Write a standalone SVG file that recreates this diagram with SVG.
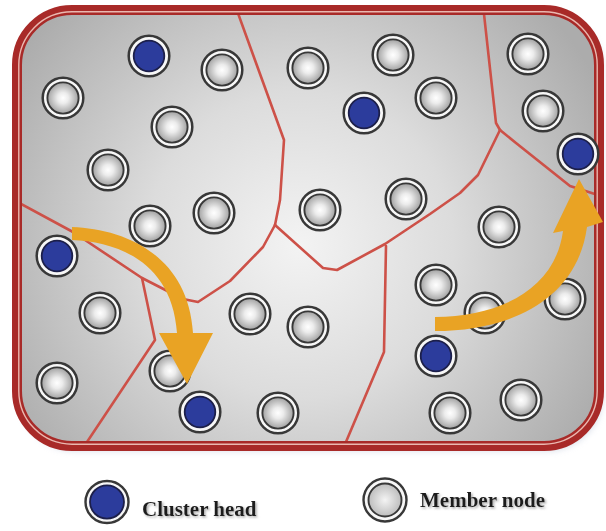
<svg xmlns="http://www.w3.org/2000/svg" xmlns:xlink="http://www.w3.org/1999/xlink" width="606" height="531" viewBox="0 0 606 531">
<defs>
<radialGradient id="bg" gradientUnits="userSpaceOnUse" cx="300" cy="245" r="340">
<stop offset="0" stop-color="#f3f3f3"/>
<stop offset="0.45" stop-color="#dcdcdc"/>
<stop offset="1" stop-color="#acacac"/>
</radialGradient>
<radialGradient id="mg" cx="0.5" cy="0.5" r="0.5">
<stop offset="0" stop-color="#ffffff"/>
<stop offset="0.35" stop-color="#ececec"/>
<stop offset="1" stop-color="#a2a2a2"/>
</radialGradient>
<radialGradient id="lg" cx="0.5" cy="0.5" r="0.5">
<stop offset="0" stop-color="#f4f4f4"/>
<stop offset="1" stop-color="#bdbdbd"/>
</radialGradient>
<clipPath id="inside">
<rect x="17" y="10" width="582" height="436" rx="55"/>
</clipPath>
<filter id="shadow" x="-10%" y="-10%" width="120%" height="120%">
<feGaussianBlur stdDeviation="3"/>
</filter>
<filter id="tshadow" x="-5%" y="-20%" width="110%" height="140%">
<feDropShadow dx="1.5" dy="1.5" stdDeviation="0.8" flood-color="#888888" flood-opacity="0.7"/>
</filter>
<g id="member">
<circle r="20.3" fill="#f7f7f7" stroke="#383838" stroke-width="2.5"/>
<circle r="15.6" fill="url(#mg)" stroke="#383838" stroke-width="1.9"/>
</g>
<g id="head">
<circle r="20.3" fill="#f7f7f7" stroke="#383838" stroke-width="2.5"/>
<circle r="15.3" fill="#2c3c9c" stroke="#1c1f4a" stroke-width="1.8"/>
</g>
</defs>
<style>
.part{fill:none;stroke:#cd5148;stroke-width:2.6;stroke-linejoin:round;stroke-linecap:round}
.arrow{fill:#e9a324}
.legend{font-family:"Liberation Serif","Times New Roman",serif;font-weight:bold;font-size:21px;fill:#1e1e1e}
</style>
<rect width="606" height="531" fill="#ffffff"/>
<rect x="19" y="13" width="584" height="438" rx="56" fill="#b9c3d6" opacity="0.55" filter="url(#shadow)"/>
<rect id="board" x="17" y="10" width="582" height="436" rx="55" fill="url(#bg)"/>
<g id="connectors" clip-path="url(#inside)">
<polyline class="part" points="235,5 284,140 280,200 275,225"/>
<polyline class="part" points="12,199 73,232 142,278 183,299 198,302 230,281 263,247 275,225"/>
<polyline class="part" points="142,278 155,340 83,448"/>
<polyline class="part" points="275,225 323,268 337,270 385,244 430,214 460,193 478,175 500,130"/>
<polyline class="part" points="483,5 496,123 500,130"/>
<polyline class="part" points="500,130 516,143 570,186 604,197"/>
<polyline class="part" points="386,246 384,352 343,449"/>
</g>
<g id="frame">
<rect x="17" y="10" width="582" height="436" rx="55" fill="none" stroke="#a82a28" stroke-width="10"/>
<rect x="18.8" y="11.8" width="578.4" height="432.4" rx="53.2" fill="none" stroke="#eab8b0" stroke-width="1.4"/>
</g>
<g id="ch1" transform="translate(149,56)"><use xlink:href="#head"/></g>
<g id="ch2" transform="translate(364,113)"><use xlink:href="#head"/></g>
<g id="ch3" transform="translate(578,154)"><use xlink:href="#head"/></g>
<g id="ch4" transform="translate(57,256)"><use xlink:href="#head"/></g>
<g id="ch5" transform="translate(200,412)"><use xlink:href="#head"/></g>
<g id="ch6" transform="translate(436,356)"><use xlink:href="#head"/></g>
<g id="m1" transform="translate(222,70)"><use xlink:href="#member"/></g>
<g id="m2" transform="translate(63,98)"><use xlink:href="#member"/></g>
<g id="m3" transform="translate(172,127)"><use xlink:href="#member"/></g>
<g id="m4" transform="translate(108,170)"><use xlink:href="#member"/></g>
<g id="m5" transform="translate(150,226)"><use xlink:href="#member"/></g>
<g id="m6" transform="translate(214,213)"><use xlink:href="#member"/></g>
<g id="m7" transform="translate(308,68)"><use xlink:href="#member"/></g>
<g id="m8" transform="translate(393,55)"><use xlink:href="#member"/></g>
<g id="m9" transform="translate(436,98)"><use xlink:href="#member"/></g>
<g id="m10" transform="translate(320,210)"><use xlink:href="#member"/></g>
<g id="m11" transform="translate(406,199)"><use xlink:href="#member"/></g>
<g id="m12" transform="translate(528,54)"><use xlink:href="#member"/></g>
<g id="m13" transform="translate(543,111)"><use xlink:href="#member"/></g>
<g id="m14" transform="translate(499,227)"><use xlink:href="#member"/></g>
<g id="m15" transform="translate(436,285)"><use xlink:href="#member"/></g>
<g id="m16" transform="translate(485,313)"><use xlink:href="#member"/></g>
<g id="m17" transform="translate(565,299)"><use xlink:href="#member"/></g>
<g id="m18" transform="translate(100,313)"><use xlink:href="#member"/></g>
<g id="m19" transform="translate(250,314)"><use xlink:href="#member"/></g>
<g id="m20" transform="translate(308,327)"><use xlink:href="#member"/></g>
<g id="m21" transform="translate(170,371)"><use xlink:href="#member"/></g>
<g id="m22" transform="translate(57,383)"><use xlink:href="#member"/></g>
<g id="m23" transform="translate(278,413)"><use xlink:href="#member"/></g>
<g id="m24" transform="translate(450,413)"><use xlink:href="#member"/></g>
<g id="m25" transform="translate(521,400)"><use xlink:href="#member"/></g>
<g id="arrows">
<path class="arrow" d="M72,227 C125,229 188,255 193,333 L213,333 L187,384 L159,333 L177,333 C172,262 118,242 72,240 Z"/>
<path class="arrow" d="M435,317 C500,316 555,290 563,231 L553,233 L579,179 L603,222 L587,227 C577,300 510,331 435,331 Z"/>
</g>
<g id="legend-head">
<ellipse cx="107" cy="502" rx="21.5" ry="21" fill="#f7f7f7" stroke="#383838" stroke-width="2.4"/>
<ellipse cx="107" cy="502" rx="17" ry="16.6" fill="#2c3c9c" stroke="#1c1f4a" stroke-width="1.8"/>
<text class="legend" x="142" y="516" filter="url(#tshadow)">Cluster head</text>
</g>
<g id="legend-member">
<ellipse cx="385" cy="500" rx="21.5" ry="21.5" fill="#f7f7f7" stroke="#383838" stroke-width="2.4"/>
<ellipse cx="385" cy="500" rx="16.5" ry="16.5" fill="url(#lg)" stroke="#383838" stroke-width="1.9"/>
<text class="legend" x="420" y="507" filter="url(#tshadow)">Member node</text>
</g>
</svg>
